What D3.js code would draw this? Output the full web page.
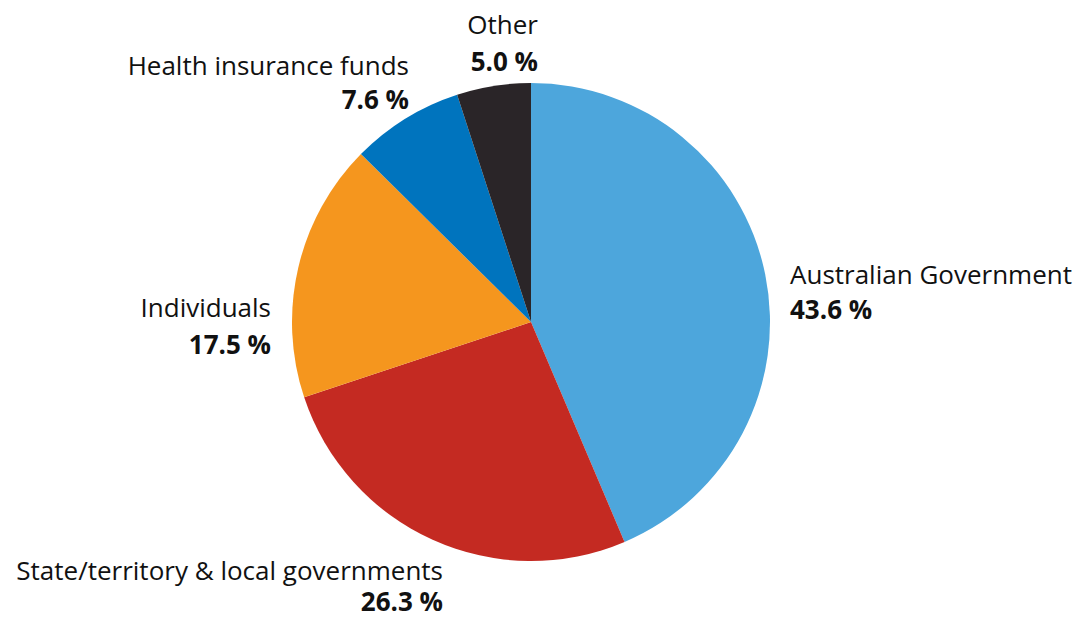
<!DOCTYPE html>
<html><head><meta charset="utf-8">
<script src="https://cdn.jsdelivr.net/npm/d3@7"></script>
<style>body{margin:0;background:#fff}svg{display:block}text{font-family:"Open Sans",sans-serif;fill:#111}</style>
</head><body>
<svg id="c" width="1080" height="619"></svg>
<script>
const categories = ["Australian Government","State/territory & local governments","Individuals","Health insurance funds","Other"];
const values = [43.6, 26.3, 17.5, 7.6, 5.0];
const valueLabels = ["43.6 %","26.3 %","17.5 %","7.6 %","5.0 %"];
const colors = ["#4DA6DC","#C42A22","#F5961E","#0074BE","#2A2528"];

const svg = d3.select("#c");
const cx = 531, cy = 322, r = 239;
const pie = d3.pie().sort(null).value(d => d.v);
const data = categories.map((c,i)=>({c, v: values[i], l: valueLabels[i], col: colors[i]}));
const arcs = pie(data);
const arc = d3.arc().innerRadius(0).outerRadius(r);
const g = svg.append("g").attr("transform", `translate(${cx},${cy})`);
g.selectAll("path").data(arcs).enter().append("path")
  .attr("d", arc).attr("fill", d => d.data.col);

const labelPos = [
  {anchor:"start", x:790, y1:284, y2:319},
  {anchor:"end", x:443, y1:580, y2:611},
  {anchor:"end", x:271, y1:317, y2:354},
  {anchor:"end", x:409, y1:75, y2:109},
  {anchor:"end", x:538, y1:34, y2:71}
];
const fs = 26;
const lg = svg.append("g");
data.forEach((d,i)=>{
  const p = labelPos[i];
  lg.append("text").attr("x",p.x).attr("y",p.y1).attr("text-anchor",p.anchor)
    .attr("font-size",fs).text(d.c);
  lg.append("text").attr("x",p.x).attr("y",p.y2).attr("text-anchor",p.anchor)
    .attr("font-size",fs).attr("font-weight","bold").text(d.l);
});
</script>
</body></html>
